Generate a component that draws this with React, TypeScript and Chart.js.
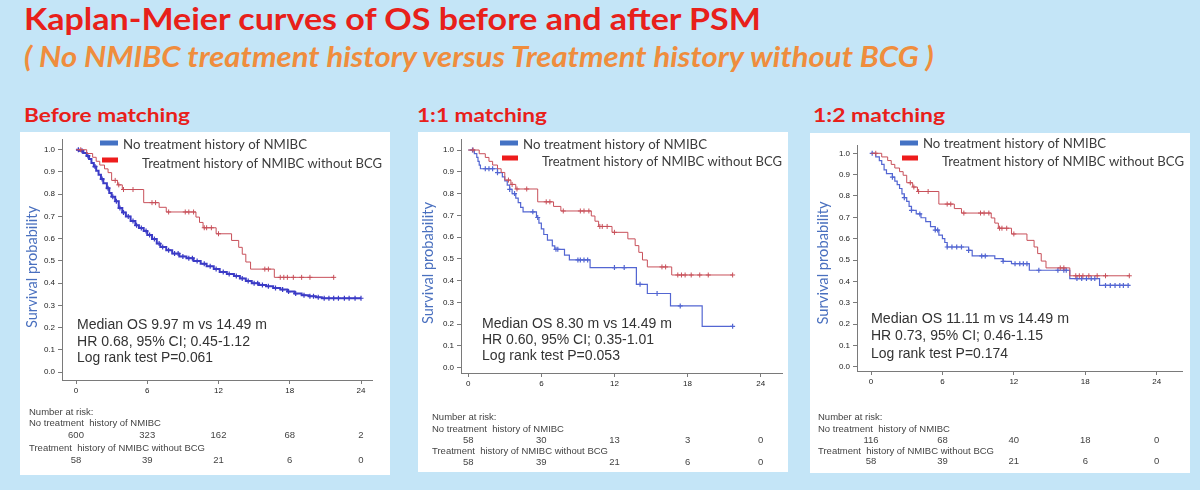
import React, { useEffect, useRef } from 'react';
import { Chart, registerables } from 'chart.js';

Chart.register(...registerables);

// ---------------- DATA ----------------
const X_TICKS = [0, 6, 12, 18, 24];
const Y_TICKS = [0, 0.1, 0.2, 0.3, 0.4, 0.5, 0.6, 0.7, 0.8, 0.9, 1.0];

const LEGEND_LABELS = ['No treatment history of NMIBC', 'Treatment history of NMIBC without BCG'];
const RISK_LABELS = ['Number at risk:', 'No treatment  history of NMIBC', 'Treatment  history of NMIBC without BCG'];
const PANEL_TITLES = ['Before matching', '1:1 matching', '1:2 matching'];
const MAIN_TITLE = 'Kaplan-Meier curves of OS before and after PSM';
const SUB_TITLE = '( No NMIBC treatment history versus Treatment history without BCG )';
const Y_TITLE = 'Survival probability';

// Treatment history of NMIBC without BCG (same cohort in all three panels)
const RED_T = [0, 0.9, 1.4, 1.7, 2.0, 2.4, 2.7, 3.0, 3.5, 3.9, 5.7, 7.0, 7.6, 10.1, 10.4, 10.7, 11.8, 13.1, 13.7, 14.0, 14.3, 14.7, 16.7, 21.7];
const RED_S = [1.0, 0.983, 0.966, 0.948, 0.931, 0.914, 0.897, 0.862, 0.842, 0.821, 0.762, 0.741, 0.720, 0.697, 0.673, 0.649, 0.622, 0.592, 0.561, 0.530, 0.495, 0.463, 0.426, 0.426];
const RED_CENSOR = [0.4, 3.3, 3.6, 4.0, 4.8, 6.4, 6.7, 7.8, 9.2, 9.5, 9.9, 10.8, 11.0, 11.4, 12.0, 15.9, 16.2, 17.2, 17.5, 17.8, 18.3, 19.0, 19.7, 21.7];

// Before matching: No treatment history of NMIBC (n=600)
const BLUE1_T = [0, 0.3, 0.6, 0.9, 1.1, 1.3, 1.5, 1.7, 1.9, 2.1, 2.3, 2.6, 2.8, 3.0, 3.3, 3.6, 3.9, 4.2, 4.6, 5.0, 5.3, 5.7, 6.0, 6.4, 6.8, 7.1, 7.6, 8.1, 8.7, 9.3, 9.9, 10.5, 11.0, 11.6, 12.1, 12.7, 13.3, 13.8, 14.3, 14.8, 15.4, 16.0, 16.6, 17.2, 17.8, 18.4, 19.0, 19.6, 20.2, 20.7, 24.0];
const BLUE1_S = [1.0, 0.995, 0.985, 0.972, 0.958, 0.940, 0.924, 0.905, 0.888, 0.868, 0.849, 0.827, 0.805, 0.789, 0.768, 0.738, 0.718, 0.700, 0.679, 0.660, 0.648, 0.634, 0.617, 0.598, 0.578, 0.563, 0.548, 0.533, 0.520, 0.512, 0.500, 0.487, 0.476, 0.463, 0.450, 0.441, 0.432, 0.421, 0.410, 0.399, 0.392, 0.386, 0.378, 0.371, 0.362, 0.353, 0.346, 0.341, 0.336, 0.332, 0.332];
const BLUE1_CENSOR = [0.2, 0.5, 1.0, 1.6, 2.2, 2.7, 3.1, 3.4, 3.7, 4.0, 4.4, 4.8, 5.1, 5.5, 5.9, 6.2, 6.6, 7.0, 7.3, 7.8, 8.3, 8.6, 9.0, 9.5, 9.8, 10.2, 10.8, 11.3, 11.8, 12.4, 12.9, 13.5, 14.0, 14.5, 15.0, 15.3, 15.7, 16.2, 16.8, 17.4, 17.9, 18.5, 19.2, 19.7, 20.0, 20.4, 20.9, 21.3, 21.7, 22.1, 22.6, 23.0, 23.5, 24.0];

// 1:1 matching: No treatment history of NMIBC (n=58)
const BLUE2_T = [0, 0.5, 0.7, 0.8, 0.9, 1.0, 2.4, 2.8, 3.0, 3.2, 3.4, 3.6, 3.9, 4.1, 4.3, 4.5, 5.6, 5.8, 6.0, 6.2, 6.5, 6.9, 7.1, 7.9, 8.3, 10.0, 13.8, 14.7, 16.6, 19.2, 21.7];
const BLUE2_S = [1.0, 0.983, 0.966, 0.948, 0.931, 0.914, 0.896, 0.877, 0.858, 0.839, 0.819, 0.800, 0.779, 0.758, 0.737, 0.716, 0.690, 0.664, 0.638, 0.612, 0.586, 0.560, 0.544, 0.517, 0.495, 0.460, 0.383, 0.341, 0.284, 0.190, 0.190];
const BLUE2_CENSOR = [0.35, 1.4, 1.7, 2.0, 2.4, 3.4, 3.8, 5.3, 5.7, 7.2, 7.35, 9.0, 9.2, 9.5, 9.8, 12.0, 12.8, 14.1, 15.5, 17.4, 21.7];

// 1:2 matching: No treatment history of NMIBC (n=116)
const BLUE3_T = [0, 0.4, 0.7, 0.9, 1.1, 1.3, 1.8, 2.0, 2.2, 2.4, 2.6, 2.8, 3.0, 3.2, 3.4, 3.8, 4.2, 4.6, 5.0, 5.4, 5.7, 6.0, 6.2, 6.4, 8.2, 8.5, 10.4, 11.1, 11.8, 13.3, 16.7, 19.2, 21.7];
const BLUE3_S = [1.0, 0.983, 0.966, 0.948, 0.922, 0.905, 0.888, 0.870, 0.853, 0.835, 0.810, 0.792, 0.775, 0.751, 0.733, 0.716, 0.698, 0.680, 0.656, 0.640, 0.617, 0.600, 0.582, 0.561, 0.545, 0.519, 0.506, 0.494, 0.483, 0.452, 0.413, 0.381, 0.381];
const BLUE3_CENSOR = [0.1, 1.8, 2.8, 3.4, 4.1, 5.4, 5.6, 6.4, 6.8, 7.2, 7.6, 8.2, 9.3, 9.6, 11.1, 12.1, 12.5, 12.8, 13.1, 14.1, 15.7, 16.2, 16.4, 17.3, 17.7, 18.1, 18.5, 18.8, 19.7, 20.1, 20.5, 20.9, 21.2, 21.6];

// Number at risk at months 0, 6, 12, 18, 24
const RISK_BLUE_1 = [600, 323, 162, 68, 2];
const RISK_BLUE_2 = [58, 30, 13, 3, 0];
const RISK_BLUE_3 = [116, 68, 40, 18, 0];
const RISK_RED = [58, 39, 21, 6, 0];

const ANNOT_1 = ['Median OS 9.97 m vs 14.49 m', 'HR 0.68, 95% CI; 0.45-1.12', 'Log rank test P=0.061'];
const ANNOT_2 = ['Median OS 8.30 m vs 14.49 m', 'HR 0.60, 95% CI; 0.35-1.01', 'Log rank test P=0.053'];
const ANNOT_3 = ['Median OS 11.11 m vs 14.49 m', 'HR 0.73, 95% CI; 0.46-1.15', 'Log rank test P=0.174'];

// ---------------- STYLE ----------------
const BG = '#c4e5f7';
const TITLE_RED = '#e8201a';
const SUB_ORANGE = '#ef8d3d';
const LEG_BLUE = '#4472c4';
const LEG_RED = '#ee1c1c';
const RED_LINE = '#c8505a';
const AXIS = '#7a7a7a';
const SANS = '"Liberation Sans", Arial, sans-serif';
const HUM = 'Lato, "Open Sans", sans-serif';

type Box = { x: number; y: number; w: number; h: number };
type PanelCfg = {
  title: string; titleX: number; titleW: number;
  box: Box;
  area: { l: number; t: number; r: number; b: number };
  cal: { x0: number; x24: number; y1: number; y0: number };
  blueT: number[]; blueS: number[]; blueC: number[]; blueColor: string; blueWidth: number;
  riskBlue: number[];
  annot: string[]; annotX: number; annotY: number[]; annotW: number[];
  leg: { bb: number[]; bt: number[]; rb: number[]; rt: number[] };
  yTitle: number[];
  riskX: number; riskY: number[]; tickY: number;
};

const PANELS: PanelCfg[] = [
  {
    title: PANEL_TITLES[0], titleX: 24, titleW: 166,
    box: { x: 20, y: 132, w: 370, h: 343 },
    area: { l: 62, t: 138, r: 372, b: 380 },
    cal: { x0: 76, x24: 361, y1: 148, y0: 372 },
    blueT: BLUE1_T, blueS: BLUE1_S, blueC: BLUE1_CENSOR, blueColor: '#3b3bc6', blueWidth: 2,
    riskBlue: RISK_BLUE_1,
    annot: ANNOT_1, annotX: 77, annotY: [324, 341, 357], annotW: [190, 173, 136],
    leg: { bb: [100, 118, 143], bt: [123, 144, 184], rb: [102, 118, 160], rt: [142, 163, 240] },
    yTitle: [32, 267, 122],
    riskX: 29, riskY: [412, 423, 435, 448, 460], tickY: 390,
  },
  {
    title: PANEL_TITLES[1], titleX: 417, titleW: 130,
    box: { x: 418, y: 132, w: 370, h: 340 },
    area: { l: 461, t: 138, r: 785, b: 373 },
    cal: { x0: 468.3, x24: 762.7, y1: 148.3, y0: 367.7 },
    blueT: BLUE2_T, blueS: BLUE2_S, blueC: BLUE2_CENSOR, blueColor: '#5366d2', blueWidth: 1.2,
    riskBlue: RISK_BLUE_2,
    annot: ANNOT_2, annotX: 482, annotY: [323, 339, 355], annotW: [190, 172, 138],
    leg: { bb: [500, 518, 143], bt: [523, 144, 184], rb: [502, 518, 158], rt: [542, 161, 240] },
    yTitle: [428, 263, 122],
    riskX: 432, riskY: [417, 429, 440, 451, 462], tickY: 384,
  },
  {
    title: PANEL_TITLES[2], titleX: 813, titleW: 132,
    box: { x: 810, y: 133, w: 380, h: 340 },
    area: { l: 857, t: 145, r: 1182, b: 371 },
    cal: { x0: 871, x24: 1156.7, y1: 153.3, y0: 366.7 },
    blueT: BLUE3_T, blueS: BLUE3_S, blueC: BLUE3_CENSOR, blueColor: '#5366d2', blueWidth: 1.2,
    riskBlue: RISK_BLUE_3,
    annot: ANNOT_3, annotX: 871, annotY: [318, 335, 353], annotW: [198, 172, 137],
    leg: { bb: [900, 918, 143], bt: [923, 143, 183], rb: [902, 918, 158], rt: [942, 161, 242] },
    yTitle: [823, 263, 123],
    riskX: 818, riskY: [417, 429, 440, 451, 461], tickY: 383,
  },
];

// ---------------- HELPERS ----------------
function stepAt(ts: number[], ss: number[], t: number) {
  let v = ss[0];
  for (let i = 0; i < ts.length; i++) if (ts[i] <= t) v = ss[i];
  return v;
}

let mCanvas: HTMLCanvasElement | null = null;
function measure(text: string, font: string) {
  if (!mCanvas) mCanvas = document.createElement('canvas');
  const c = mCanvas.getContext('2d')!;
  c.font = font;
  const m = c.measureText(text);
  return { w: m.width, a: m.fontBoundingBoxAscent || 0, d: m.fontBoundingBoxDescent || 0 };
}

function FitText(props: { text: string; x: number; baseline: number; size: number; weight: string; italic?: boolean; color: string; width: number; family: string }) {
  const { text, x, baseline, size, weight, italic, color, width, family } = props;
  const font = `${italic ? 'italic ' : ''}${weight} ${size}px ${family}`;
  const m = measure(text, font);
  const k = m.w > 0 ? width / m.w : 1;
  const A = m.a || size * 0.95;
  const D = m.d || size * 0.25;
  const top = baseline - (size - (A + D)) / 2 - A;
  return (
    <div
      style={{
        position: 'absolute', left: x, top, font, lineHeight: `${size}px`, color,
        whiteSpace: 'nowrap', transform: `scaleX(${k})`, transformOrigin: '0 0',
      }}
    >
      {text}
    </div>
  );
}

function drawText(ctx: CanvasRenderingContext2D, text: string, x: number, cy: number, size: number, family: string, color: string, align: CanvasTextAlign, width?: number, weight = 'normal') {
  ctx.save();
  ctx.font = `${weight} ${size}px ${family}`;
  ctx.fillStyle = color;
  ctx.textBaseline = 'alphabetic';
  ctx.textAlign = align;
  let k = 1;
  if (width) {
    const w = ctx.measureText(text).width;
    if (w > 0) k = width / w;
  }
  ctx.translate(x, cy + size * 0.36);
  ctx.scale(k, 1);
  ctx.fillText(text, 0, 0);
  ctx.restore();
}

function makePlugin(p: PanelCfg) {
  return {
    id: 'kmDecor',
    afterDraw(chart: any) {
      const ctx: CanvasRenderingContext2D = chart.ctx;
      const ox = p.box.x, oy = p.box.y;
      const xs = chart.scales.x;
      // legend
      ctx.save();
      ctx.fillStyle = LEG_BLUE;
      ctx.fillRect(p.leg.bb[0] - ox, p.leg.bb[2] - oy - 2.5, p.leg.bb[1] - p.leg.bb[0], 5);
      ctx.fillStyle = LEG_RED;
      ctx.fillRect(p.leg.rb[0] - ox, p.leg.rb[2] - oy - 2.5, p.leg.rb[1] - p.leg.rb[0], 5);
      ctx.restore();
      drawText(ctx, LEGEND_LABELS[0], p.leg.bt[0] - ox, p.leg.bt[1] - oy, 14, HUM, '#3c3c3c', 'left', p.leg.bt[2]);
      drawText(ctx, LEGEND_LABELS[1], p.leg.rt[0] - ox, p.leg.rt[1] - oy, 14, HUM, '#3c3c3c', 'left', p.leg.rt[2]);
      // annotation
      p.annot.forEach((s, i) => drawText(ctx, s, p.annotX - ox, p.annotY[i] - oy, 14, SANS, '#333', 'left', p.annotW[i]));
      // y title
      ctx.save();
      ctx.translate(p.yTitle[0] - ox, p.yTitle[1] - oy);
      ctx.rotate(-Math.PI / 2);
      drawText(ctx, Y_TITLE, 0, 0, 15, HUM, '#4a70bf', 'center', p.yTitle[2]);
      ctx.restore();
      // number at risk
      const rx = p.riskX - ox;
      drawText(ctx, RISK_LABELS[0], rx, p.riskY[0] - oy, 9.5, SANS, '#444', 'left');
      drawText(ctx, RISK_LABELS[1], rx, p.riskY[1] - oy, 9.5, SANS, '#444', 'left');
      drawText(ctx, RISK_LABELS[2], rx, p.riskY[3] - oy, 9.5, SANS, '#444', 'left');
      X_TICKS.forEach((t, i) => {
        const px = xs.getPixelForValue(t);
        drawText(ctx, String(p.riskBlue[i]), px, p.riskY[2] - oy, 9.5, SANS, '#444', 'center');
        drawText(ctx, String(RISK_RED[i]), px, p.riskY[4] - oy, 9.5, SANS, '#444', 'center');
      });
    },
  };
}

function Panel({ p }: { p: PanelCfg }) {
  const ref = useRef<HTMLCanvasElement | null>(null);
  useEffect(() => {
    if (!ref.current) return;
    const { box, area, cal } = p;
    const yPer = cal.y0 - cal.y1;
    const yMax = 1 + (cal.y1 - area.t) / yPer;
    const yMin = -(area.b - cal.y0) / yPer;
    const xPer = (cal.x24 - cal.x0) / 24;
    const xMin = -(cal.x0 - area.l) / xPer;
    const xMax = 24 + (area.r - cal.x24) / xPer;
    const XH = p.tickY - area.b + 8;
    const pts = (ts: number[], ss: number[]) => ts.map((t, i) => ({ x: t, y: ss[i] }));
    const cens = (cs: number[], ts: number[], ss: number[]) => cs.map((t) => ({ x: t, y: stepAt(ts, ss, t) }));
    const tickFont = { family: SANS, size: 8 };
    const chart = new Chart(ref.current, {
      type: 'line',
      data: {
        datasets: [
          { data: pts(RED_T, RED_S), borderColor: RED_LINE, borderWidth: 1, stepped: true, pointRadius: 0, fill: false } as any,
          { data: cens(RED_CENSOR, RED_T, RED_S), showLine: false, pointStyle: 'cross', pointRadius: 2.5, pointBorderColor: RED_LINE, pointBorderWidth: 1, borderColor: RED_LINE } as any,
          { data: pts(p.blueT, p.blueS), borderColor: p.blueColor, borderWidth: p.blueWidth, stepped: true, pointRadius: 0, fill: false } as any,
          { data: cens(p.blueC, p.blueT, p.blueS), showLine: false, pointStyle: 'cross', pointRadius: 2.5, pointBorderColor: p.blueColor, pointBorderWidth: 1.2, borderColor: p.blueColor } as any,
        ],
      },
      options: {
        animation: false,
        responsive: false,
        maintainAspectRatio: false,
        devicePixelRatio: 1,
        layout: {
          padding: { left: 0, top: area.t - box.y, right: box.x + box.w - area.r, bottom: box.y + box.h - area.b - XH },
        },
        plugins: { legend: { display: false }, tooltip: { enabled: false } },
        scales: {
          x: {
            type: 'linear', min: xMin, max: xMax,
            afterBuildTicks: (s: any) => { s.ticks = X_TICKS.map((v) => ({ value: v })); },
            afterFit: (s: any) => { s.height = XH; },
            grid: { display: true, drawOnChartArea: false, drawTicks: true, tickLength: 4, color: AXIS },
            border: { display: true, color: AXIS },
            ticks: { font: tickFont, color: '#222', padding: 2, maxRotation: 0, autoSkip: false, callback: (v: any) => String(v) },
          },
          y: {
            type: 'linear', min: yMin, max: yMax,
            afterBuildTicks: (s: any) => { s.ticks = Y_TICKS.map((v) => ({ value: v })); },
            afterFit: (s: any) => { s.width = area.l - box.x; },
            grid: { display: true, drawOnChartArea: false, drawTicks: true, tickLength: 4, color: AXIS },
            border: { display: true, color: AXIS },
            ticks: { font: tickFont, color: '#222', padding: 3, autoSkip: false, callback: (v: any) => Number(v).toFixed(1) },
          },
        },
      } as any,
      plugins: [makePlugin(p)],
    });
    return () => chart.destroy();
  }, [p]);
  return (
    <div style={{ position: 'absolute', left: p.box.x, top: p.box.y, width: p.box.w, height: p.box.h, background: '#fff' }}>
      <canvas ref={ref} width={p.box.w} height={p.box.h} style={{ display: 'block', width: p.box.w, height: p.box.h }} />
    </div>
  );
}

export default function App() {
  return (
    <div style={{ position: 'fixed', left: 0, top: 0, width: 1200, height: 490, background: BG, overflow: 'hidden' }}>
      <FitText text={MAIN_TITLE} x={24} baseline={30} size={31} weight="bold" color={TITLE_RED} width={739} family={HUM} />
      <FitText text={SUB_TITLE} x={24} baseline={67} size={28} weight="bold" italic color={SUB_ORANGE} width={913} family={HUM} />
      {PANELS.map((p) => (
        <FitText key={'t' + p.title} text={p.title} x={p.titleX} baseline={122} size={18} weight="bold" color={TITLE_RED} width={p.titleW} family={HUM} />
      ))}
      {PANELS.map((p) => (
        <Panel key={p.title} p={p} />
      ))}
    </div>
  );
}
